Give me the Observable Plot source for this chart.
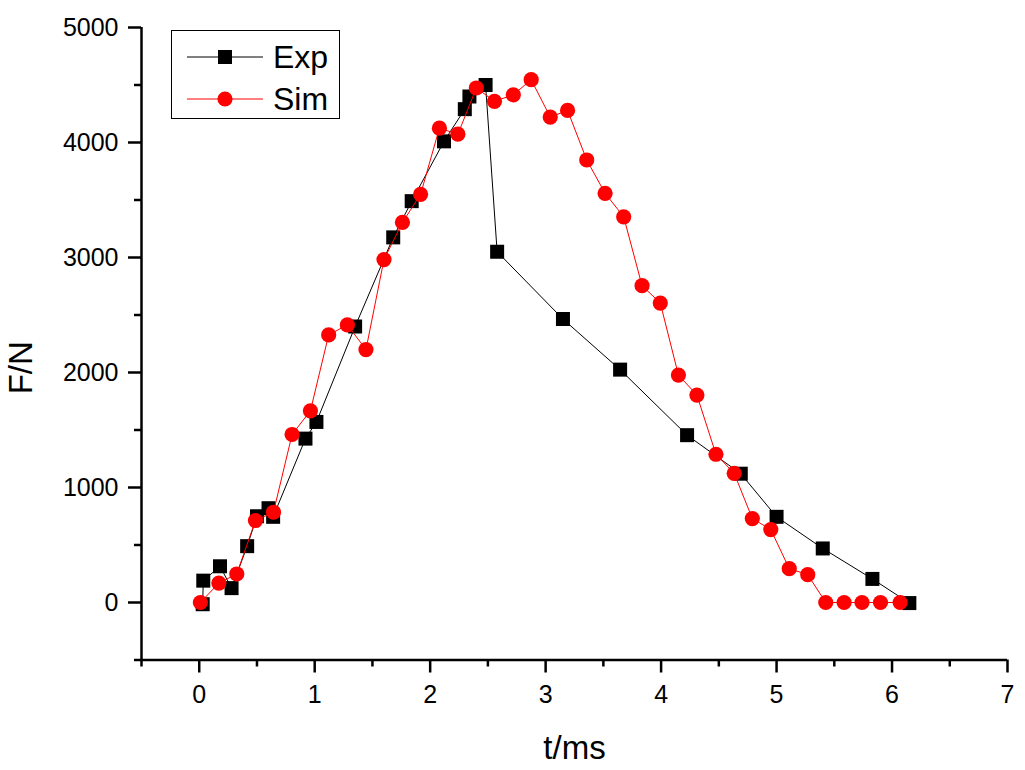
<!DOCTYPE html>
<html><head><meta charset="utf-8">
<script src="https://cdn.jsdelivr.net/npm/d3@7"></script>
<script src="https://cdn.jsdelivr.net/npm/@observablehq/plot@0.6"></script>
<style>
html,body{margin:0;padding:0;background:#fff;color:#000;}
#wrap{position:relative;width:1025px;height:770px;}
#legend{position:absolute;left:0;top:0;pointer-events:none;}
</style></head><body><div id="wrap"></div>
<script>
// ---- data ----
const expT = [0.03, 0.035, 0.18, 0.28, 0.415, 0.50, 0.60, 0.64, 0.92, 1.015, 1.35, 1.68, 1.84, 2.12, 2.30, 2.34, 2.48, 2.58, 3.15, 3.645, 4.225, 4.69, 5.00, 5.40, 5.83, 6.15];
const expF = [-15, 190, 315, 125, 490, 750, 820, 745, 1425, 1570, 2400, 3175, 3490, 4010, 4290, 4400, 4500, 3050, 2465, 2025, 1455, 1120, 745, 470, 205, -5];
const simT = [0.01, 0.17, 0.325, 0.487, 0.643, 0.804, 0.963, 1.121, 1.283, 1.444, 1.60, 1.76, 1.917, 2.08, 2.24, 2.40, 2.557, 2.72, 2.875, 3.04, 3.19, 3.356, 3.515, 3.676, 3.835, 3.993, 4.15, 4.31, 4.475, 4.633, 4.79, 4.95, 5.11, 5.27, 5.426, 5.585, 5.74, 5.90, 6.07];
const simF = [0, 169, 248, 713, 785, 1461, 1667, 2327, 2414, 2199, 2982, 3305, 3549, 4125, 4072, 4474, 4358, 4415, 4546, 4221, 4279, 3848, 3558, 3354, 2755, 2604, 1978, 1804, 1289, 1123, 730, 634, 294, 242, 0, 0, 0, 0, 0];
const xMajor = [0, 1, 2, 3, 4, 5, 6, 7];
const xMinor = [-0.5, 0.5, 1.5, 2.5, 3.5, 4.5, 5.5, 6.5];
const yMajor = [0, 1000, 2000, 3000, 4000, 5000];
const yMinor = [-500, 500, 1500, 2500, 3500, 4500];
const seriesNames = ["Exp", "Sim"];
const seriesColors = ["#000000", "#ff0000"];
const xLabel = "t/ms";
const yLabel = "F/N";

const exp = expT.map((t, i) => ({t, F: expF[i]}));
const sim = simT.map((t, i) => ({t, F: simF[i]}));
const font = "'Liberation Sans', Arial, Helvetica, sans-serif";

const chart = Plot.plot({
  width: 1025, height: 770,
  marginLeft: 141, marginRight: 18, marginTop: 27, marginBottom: 110.5,
  style: {fontFamily: font, background: "#fff", color: "#000", overflow: "visible"},
  x: {domain: [-0.5, 7]},
  y: {domain: [-500, 5000]},
  marks: [
    Plot.axisX({ticks: xMajor, tickSize: 13, tickPadding: 12, fontSize: 25, strokeWidth: 2.5, label: null, tickFormat: d => String(d)}),
    Plot.axisX({ticks: xMinor, tickSize: 7, tickFormat: () => "", strokeWidth: 2.5, label: null}),
    Plot.axisY({ticks: yMajor, tickSize: 13, tickPadding: 10, fontSize: 25, strokeWidth: 2.5, label: null, tickFormat: d => String(d)}),
    Plot.axisY({ticks: yMinor, tickSize: 7, tickFormat: () => "", strokeWidth: 2.5, label: null}),
    Plot.ruleX([-0.5], {strokeWidth: 2.5}),
    Plot.ruleY([-500], {strokeWidth: 2.5}),
    Plot.line(exp, {x: "t", y: "F", stroke: seriesColors[0], strokeWidth: 1}),
    Plot.dot(exp, {x: "t", y: "F", symbol: "square", fill: seriesColors[0], stroke: "none", r: 7.9}),
    Plot.line(sim, {x: "t", y: "F", stroke: seriesColors[1], strokeWidth: 1}),
    Plot.dot(sim, {x: "t", y: "F", symbol: "circle", fill: seriesColors[1], stroke: "none", r: 7.6}),
    Plot.text([xLabel], {frameAnchor: "bottom", dy: 99, lineAnchor: "bottom", fontSize: 33, fill: "#000"}),
    Plot.text([yLabel], {frameAnchor: "left", dx: -120, dy: 24, rotate: -90, lineAnchor: "middle", textAnchor: "middle", fontSize: 33, fill: "#000"})
  ]
});
document.getElementById("wrap").appendChild(chart);

// legend box overlay
const lg = d3.select("#wrap").append("svg").attr("id", "legend")
  .attr("width", 1025).attr("height", 770);
lg.append("rect").attr("x", 171.5).attr("y", 30.5).attr("width", 168).attr("height", 88)
  .attr("fill", "#fff").attr("stroke", "#000").attr("stroke-width", 1);
const rowY = [57, 99];
seriesNames.forEach((name, i) => {
  const g = lg.append("g");
  g.append("line").attr("x1", 187).attr("x2", 263).attr("y1", rowY[i]).attr("y2", rowY[i])
    .attr("stroke", seriesColors[i]).attr("stroke-width", 1);
  if (i === 0) {
    g.append("rect").attr("x", 225 - 7).attr("y", rowY[i] - 7).attr("width", 14).attr("height", 14).attr("fill", seriesColors[i]);
  } else {
    g.append("circle").attr("cx", 225).attr("cy", rowY[i]).attr("r", 7.6).attr("fill", seriesColors[i]);
  }
  g.append("text").attr("x", 273).attr("y", rowY[i] + 11).attr("font-family", font)
    .attr("font-size", 32).attr("fill", "#000").text(name);
});
</script>
</body></html>
